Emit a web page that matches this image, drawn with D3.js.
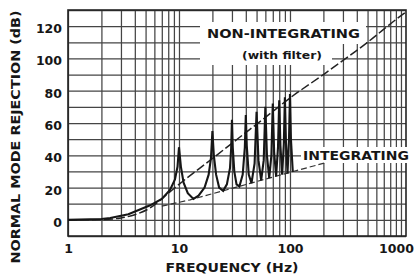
<!DOCTYPE html>
<html><head><meta charset="utf-8">
<script src="https://cdn.jsdelivr.net/npm/d3@7"></script>
<style>html,body{margin:0;padding:0;background:#fff;} svg{display:block;}</style>
</head><body><svg id="c" width="415" height="275"></svg>
<script>
// ---- data ----
const xTickValues = [1, 10, 100, 1000];
const xTickLabels = ["1", "10", "100", "1000"];
const yTickValues = [0, 20, 40, 60, 80, 100, 120];
const yTickLabels = ["0", "20", "40", "60", "80", "100", "120"];

// Non-integrating (with filter) response
const nonIntFreq = [1, 2, 3, 4, 5.5, 8, 10, 20, 35, 60, 100, 200, 500, 1000, 1110];
const nonIntDb   = [0, 0.2, 1.2, 3.2, 7.4, 16.5, 22, 38, 51, 63.5, 75.5, 90, 110, 126.5, 128.8];

// Integrating response (peaks at multiples of 10 Hz)
const intFreq = [1, 2, 2.4, 3.5, 5.5, 7, 8.3, 9.2, 9.7, 10, 10.4, 11, 12, 13.5,
  15, 17, 18.5, 19.4, 20, 20.6, 21.6, 23, 25,
  27, 28.8, 29.5, 30, 30.5, 31.5, 33, 35,
  37.5, 39.2, 40, 40.8, 42.5, 45,
  48, 50, 52, 55,
  58, 60, 62, 65,
  68, 70, 72, 75,
  78, 80, 82, 85,
  88, 90, 92, 95,
  98, 100, 102, 106];
const intDb = [0, 0.5, 1.2, 3.5, 9, 13, 18.5, 25, 33, 45, 33, 23, 16.5, 13,
  15, 20, 28, 38, 55, 40, 28, 20, 18,
  22, 32, 44, 62, 45, 30, 22, 20.7,
  28, 45, 65, 46, 28, 22.8,
  35, 67, 37, 24.4,
  37, 70, 40, 25.8,
  40, 72, 42, 26.9,
  45, 74, 46, 28,
  47, 76, 48, 28.8,
  50, 78, 50, 29.7];

// Integrating envelope (dashed line to the label)
const envFreq = [7, 12.6, 30, 66, 100, 207];
const envDb   = [8.5, 12.4, 19.5, 26, 29.4, 35.3];

// ---- chart ----
const svg = d3.select("#c");
const x = d3.scaleLog().domain([1, 1110]).range([68, 406]);
const y = d3.scaleLinear().domain([-10, 130]).range([236, 10]);
const font = "'DejaVu Sans', sans-serif";
const ink = "#161616";

svg.append("rect").attr("width", 415).attr("height", 275).attr("fill", "#fff");

// grid values
const gridX = [];
[1, 10, 100].forEach(d => { for (let k = 1; k <= 9; k++) gridX.push(d * k); });
gridX.push(1000);
const gridY = d3.range(-10, 131, 10);

const gv = svg.append("g").attr("transform", `translate(0,${y(-10)})`)
  .call(d3.axisBottom(x).tickValues(gridX).tickSize(-(y(-10) - y(130))).tickFormat(""));
gv.select(".domain").remove();
gv.selectAll("line").attr("stroke", "#454545").attr("stroke-width", 1.25);

const gh = svg.append("g").attr("transform", `translate(${x(1)},0)`)
  .call(d3.axisLeft(y).tickValues(gridY).tickSize(-(x(1110) - x(1))).tickFormat(""));
gh.select(".domain").remove();
gh.selectAll("line").attr("stroke", "#454545").attr("stroke-width", 1.25);

// frame
svg.append("rect").attr("x", x(1)).attr("y", y(130))
  .attr("width", x(1110) - x(1)).attr("height", y(-10) - y(130))
  .attr("fill", "none").attr("stroke", "#222").attr("stroke-width", 1.6);

// white label backgrounds
svg.append("rect").attr("x", 200).attr("y", 22).attr("width", 166).attr("height", 22).attr("fill", "#fff");
svg.append("rect").attr("x", 200).attr("y", 44).attr("width", 132).attr("height", 21).attr("fill", "#fff");
svg.append("rect").attr("x", 301).attr("y", 147).attr("width", 114).attr("height", 16).attr("fill", "#fff");

const line = d3.line().x(d => x(d[0])).y(d => y(d[1]));

// integrating envelope
svg.append("path").datum(envFreq.map((f, i) => [f, envDb[i]]))
  .attr("d", line).attr("fill", "none").attr("stroke", "#333")
  .attr("stroke-width", 1.2).attr("stroke-dasharray", "6,3");

// non-integrating
svg.append("path").datum(nonIntFreq.map((f, i) => [f, nonIntDb[i]]))
  .attr("d", d3.line().x(d => x(d[0])).y(d => y(d[1])).curve(d3.curveMonotoneX))
  .attr("fill", "none").attr("stroke", "#222")
  .attr("stroke-width", 1.5).attr("stroke-dasharray", "9,3");

// integrating
svg.append("path").datum(intFreq.map((f, i) => [f, intDb[i]]))
  .attr("d", line).attr("fill", "none").attr("stroke", ink)
  .attr("stroke-width", 2.1).attr("stroke-linejoin", "miter");

// axis labels
const ya = svg.append("g").attr("transform", `translate(62,2.5)`)
  .call(d3.axisLeft(y).tickValues(yTickValues).tickSize(0).tickPadding(0)
    .tickFormat((d, i) => yTickLabels[i]));
ya.select(".domain").remove();
ya.selectAll("text").attr("font-family", font).attr("font-weight", "bold")
  .attr("font-size", 12.5).attr("fill", ink);

const xa = svg.append("g").attr("transform", `translate(0,244)`)
  .call(d3.axisBottom(x).tickValues(xTickValues).tickSize(0).tickPadding(0)
    .tickFormat((d, i) => xTickLabels[i]));
xa.select(".domain").remove();
xa.selectAll("text").attr("font-family", font).attr("font-weight", "bold")
  .attr("font-size", 12.5).attr("fill", ink)
  .attr("dx", (d) => d === 1000 ? -5 : 0);

// titles
svg.append("text").attr("x", 232).attr("y", 272).attr("text-anchor", "middle")
  .attr("font-family", font).attr("font-weight", "bold").attr("font-size", 11.5)
  .attr("fill", ink).attr("textLength", 133).attr("lengthAdjust", "spacingAndGlyphs")
  .text("FREQUENCY (Hz)");

svg.append("text").attr("transform", "translate(20,137) rotate(-90)")
  .attr("text-anchor", "middle")
  .attr("font-family", font).attr("font-weight", "bold").attr("font-size", 11.5)
  .attr("fill", ink).attr("textLength", 253).attr("lengthAdjust", "spacingAndGlyphs")
  .text("NORMAL MODE REJECTION (dB)");

// annotations
svg.append("text").attr("x", 207).attr("y", 38)
  .attr("font-family", font).attr("font-weight", "bold").attr("font-size", 12.5)
  .attr("fill", ink).attr("textLength", 153).attr("lengthAdjust", "spacingAndGlyphs")
  .text("NON-INTEGRATING");
svg.append("text").attr("x", 242).attr("y", 59)
  .attr("font-family", font).attr("font-weight", "bold").attr("font-size", 10)
  .attr("fill", ink).attr("textLength", 80).attr("lengthAdjust", "spacingAndGlyphs")
  .text("(with filter)");
svg.append("text").attr("x", 303).attr("y", 160)
  .attr("font-family", font).attr("font-weight", "bold").attr("font-size", 12.5)
  .attr("fill", ink).attr("textLength", 106).attr("lengthAdjust", "spacingAndGlyphs")
  .text("INTEGRATING");
</script>
</body></html>
